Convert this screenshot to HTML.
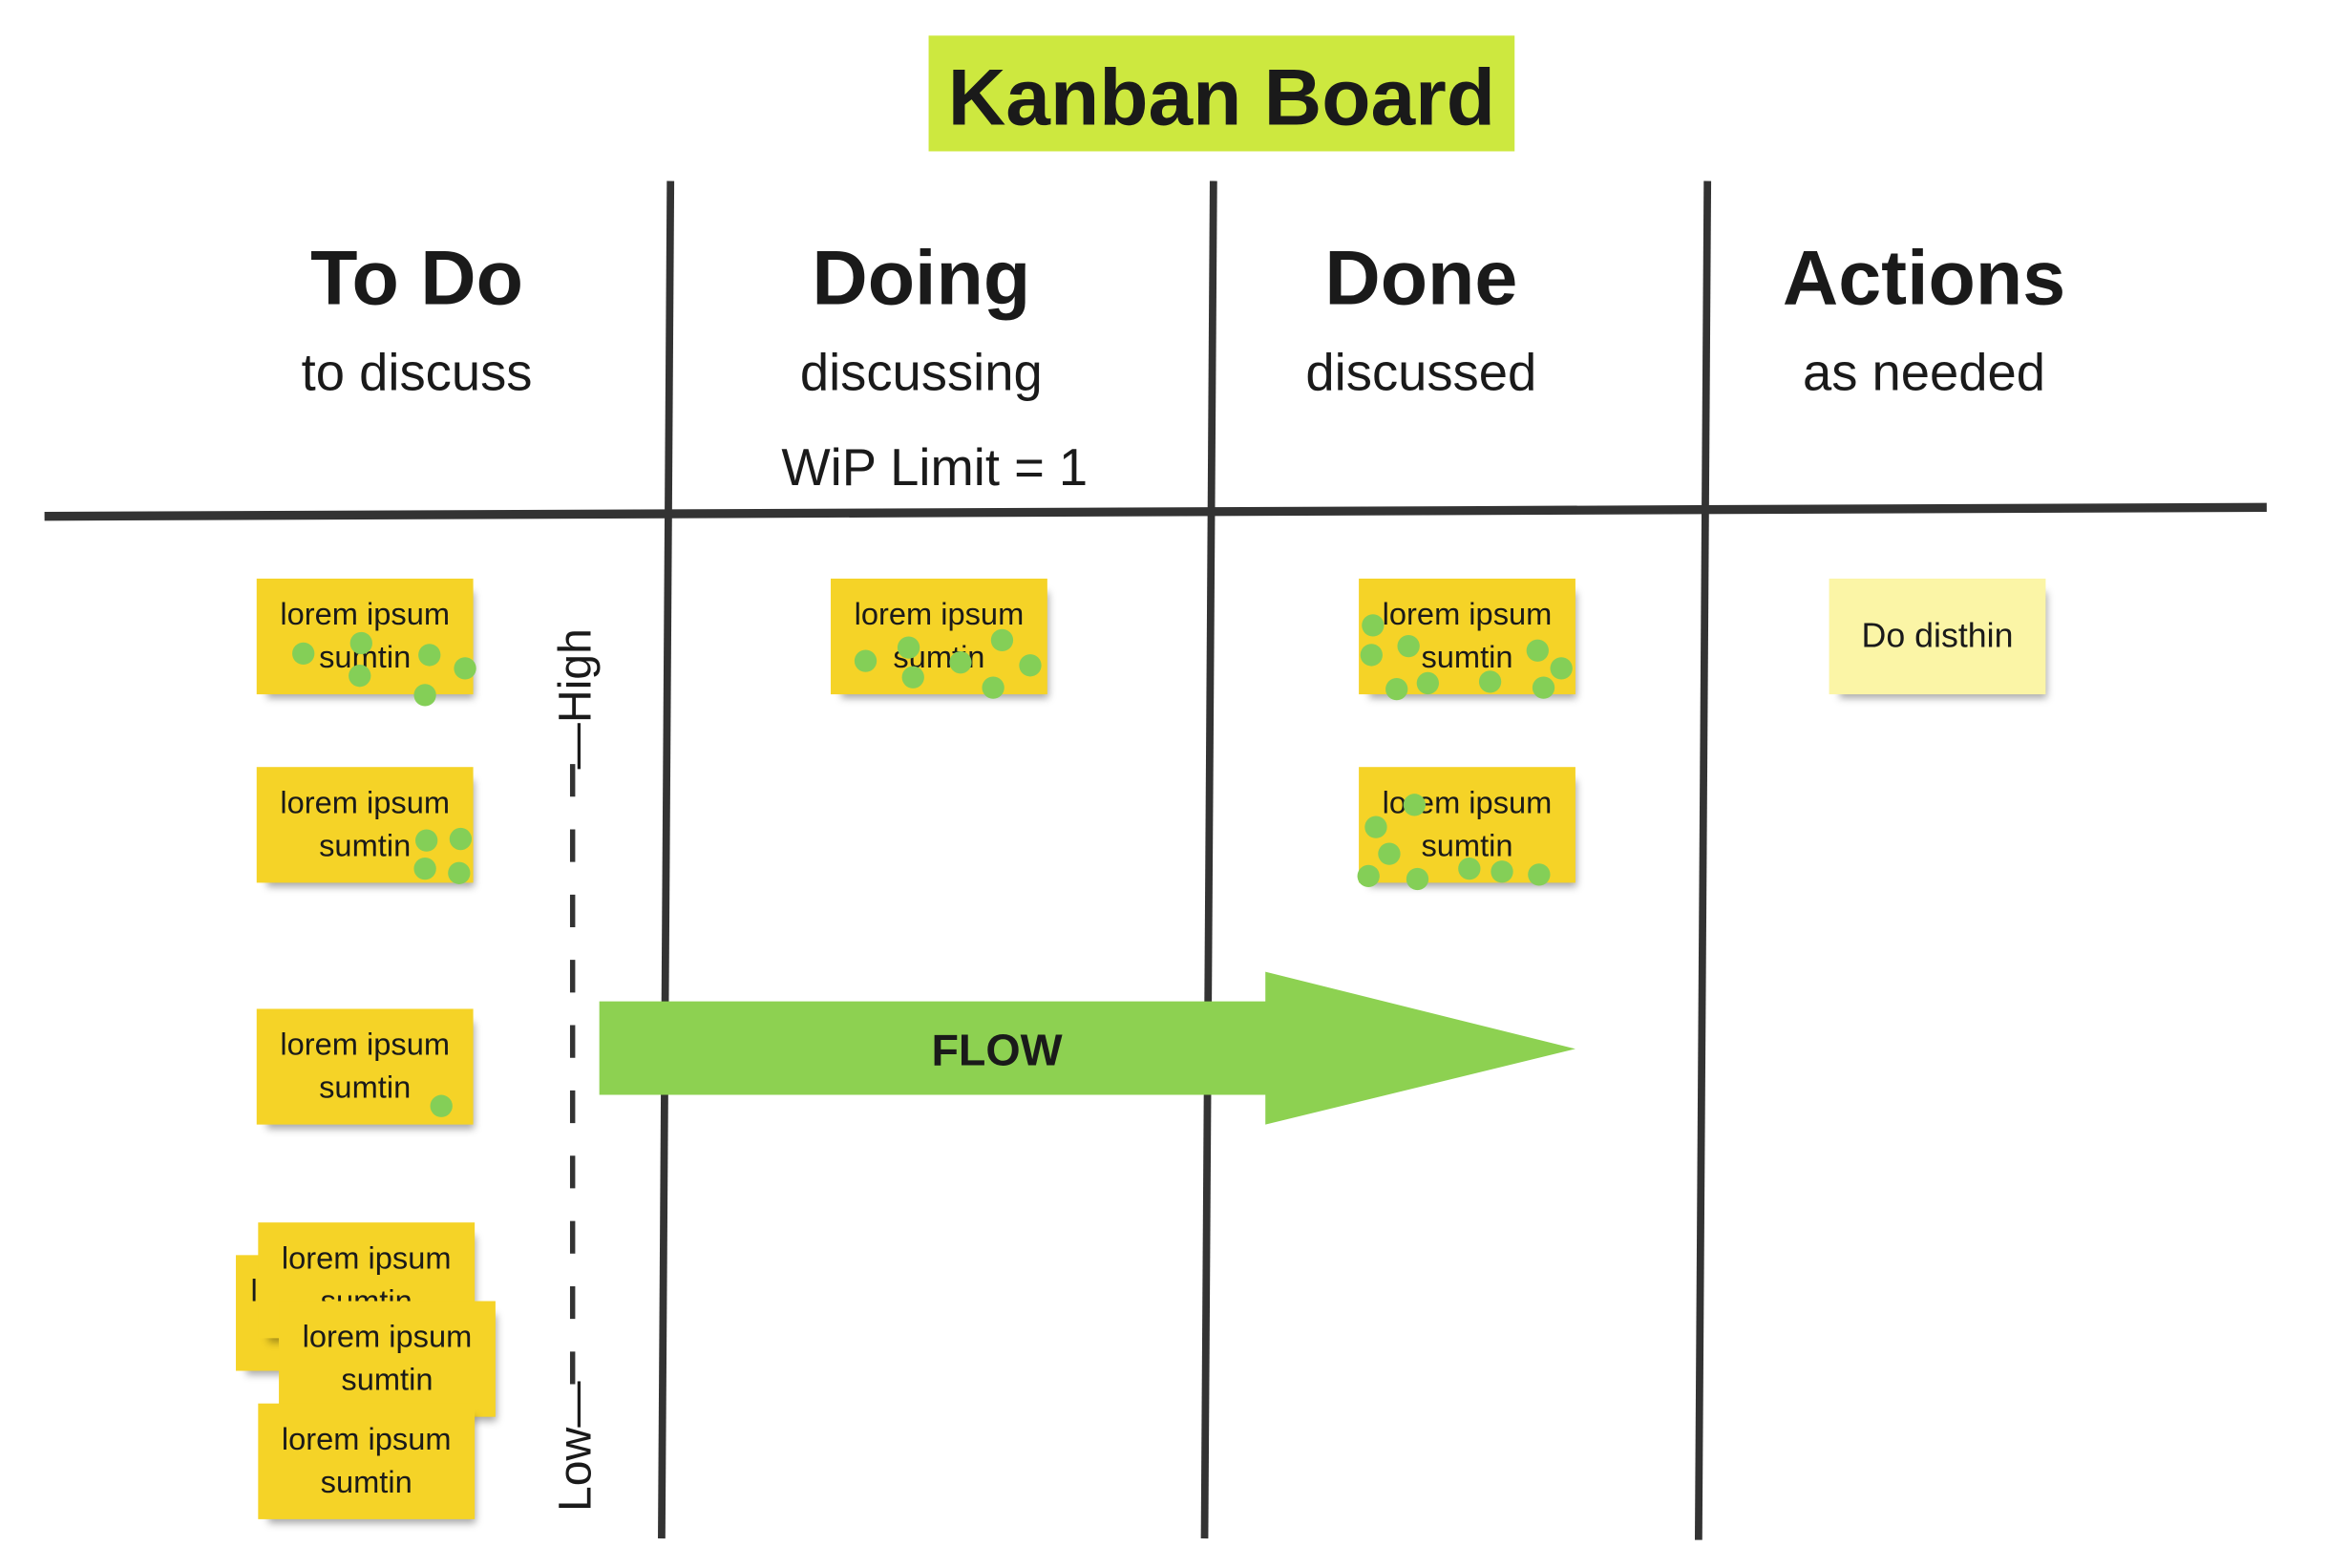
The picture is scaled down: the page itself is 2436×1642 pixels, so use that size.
<!DOCTYPE html>
<html><head><meta charset="utf-8"><style>
html,body{margin:0;padding:0;background:#fff;}
body{width:2436px;height:1641px;overflow:hidden;position:relative;}
#w{position:absolute;left:0;top:0;width:1568px;height:1057px;transform:scale(1.5536);transform-origin:0 0;font-family:"Liberation Sans",sans-serif;color:#1a1a1a;}
.a{position:absolute;}
.h{position:absolute;font-weight:bold;font-size:52px;text-align:center;width:400px;line-height:1;}
.s{position:absolute;font-size:35px;text-align:center;width:400px;line-height:1;}
.n{position:absolute;width:146px;height:78px;background:#f5d327;box-shadow:4px 6px 5px -3px rgba(0,0,0,0.35);font-size:21px;text-align:center;line-height:29px;padding-top:10px;box-sizing:border-box;}
.d{position:absolute;width:15px;height:15px;border-radius:50%;background:#84cf57;margin:-7.5px 0 0 -7.5px;}
</style></head><body><div id="w">
<div class="a" style="left:626px;top:24px;width:395px;height:78px;background:#cde83f;"></div>
<div class="a" style="left:626px;top:36px;width:395px;text-align:center;font-weight:bold;font-size:54px;line-height:60px;">Kanban Board</div>
<svg class="a" style="left:0;top:0" width="1568" height="1057">
<g stroke="#333" stroke-width="5" fill="none">
<line x1="452" y1="122" x2="446" y2="1037"/>
<line x1="818" y1="122" x2="812" y2="1037"/>
<line x1="1151" y1="122" x2="1145" y2="1038"/>
<line x1="30" y1="348" x2="1528" y2="342" stroke-width="6"/>
<line x1="386" y1="515" x2="386" y2="940" stroke-width="3.5" stroke-dasharray="22,22"/>
</g>
<polygon points="404,675 853,675 853,655 1062,707 853,758 853,738 404,738" fill="#8dd151"/>
<text x="672" y="718" text-anchor="middle" font-family="Liberation Sans" font-weight="bold" font-size="30" fill="#1a1a1a">FLOW</text>
<text transform="translate(398,471) rotate(-90)" text-anchor="middle" font-family="Liberation Sans" font-size="31" fill="#1a1a1a">—High</text>
<text transform="translate(398,975) rotate(-90)" text-anchor="middle" font-family="Liberation Sans" font-size="31" fill="#1a1a1a">Low—</text>
</svg>
<div class="h" style="left:81px;top:162px;">To Do</div>
<div class="h" style="left:421px;top:162px;">Doing</div>
<div class="h" style="left:758px;top:162px;">Done</div>
<div class="h" style="left:1097px;top:162px;">Actions</div>
<div class="s" style="left:81px;top:234px;">to discuss</div>
<div class="s" style="left:421px;top:234px;">discussing</div>
<div class="s" style="left:758px;top:234px;">discussed</div>
<div class="s" style="left:1097px;top:234px;">as needed</div>
<div class="s" style="left:430px;top:298px;">WiP Limit = 1</div>

<div class="n" style="left:173px;top:390px;">lorem ipsum<br>sumtin</div>
<div class="n" style="left:173px;top:517px;">lorem ipsum<br>sumtin</div>
<div class="n" style="left:173px;top:680px;">lorem ipsum<br>sumtin</div>
<div class="n" style="left:159px;top:846px;text-align:left;padding-left:10px;">l</div>
<div class="n" style="left:174px;top:824px;">lorem ipsum<br>sumtin</div>
<div class="n" style="left:188px;top:877px;">lorem ipsum<br>sumtin</div>
<div class="n" style="left:174px;top:946px;">lorem ipsum<br>sumtin</div>
<div class="n" style="left:560px;top:390px;">lorem ipsum<br>sumtin</div>
<div class="n" style="left:916px;top:390px;">lorem ipsum<br>sumtin</div>
<div class="n" style="left:916px;top:517px;">lorem ipsum<br>sumtin</div>
<div class="n" style="left:1233px;top:390px;background:#fbf5a6;padding-top:24px;font-size:23px;">Do disthin</div>

<div class="d" style="left:204px;top:440px"></div><div class="d" style="left:243px;top:433px"></div><div class="d" style="left:242px;top:455px"></div><div class="d" style="left:289px;top:441px"></div><div class="d" style="left:313px;top:450px"></div><div class="d" style="left:286px;top:468px"></div>
<div class="d" style="left:287px;top:566px"></div><div class="d" style="left:310px;top:565px"></div><div class="d" style="left:286px;top:585px"></div><div class="d" style="left:309px;top:588px"></div>
<div class="d" style="left:297px;top:745px"></div>
<div class="d" style="left:583px;top:445px"></div><div class="d" style="left:612px;top:436px"></div><div class="d" style="left:615px;top:456px"></div><div class="d" style="left:647px;top:446px"></div><div class="d" style="left:675px;top:431px"></div><div class="d" style="left:694px;top:448px"></div><div class="d" style="left:669px;top:463px"></div>
<div class="d" style="left:925px;top:421px"></div><div class="d" style="left:949px;top:435px"></div><div class="d" style="left:924px;top:441px"></div><div class="d" style="left:962px;top:460px"></div><div class="d" style="left:941px;top:464px"></div><div class="d" style="left:1004px;top:459px"></div><div class="d" style="left:1036px;top:438px"></div><div class="d" style="left:1052px;top:450px"></div><div class="d" style="left:1040px;top:463px"></div>
<div class="d" style="left:927px;top:557px"></div><div class="d" style="left:953px;top:542px"></div><div class="d" style="left:936px;top:575px"></div><div class="d" style="left:922px;top:590px"></div><div class="d" style="left:955px;top:592px"></div><div class="d" style="left:990px;top:585px"></div><div class="d" style="left:1012px;top:587px"></div><div class="d" style="left:1037px;top:589px"></div>
</div></body></html>
